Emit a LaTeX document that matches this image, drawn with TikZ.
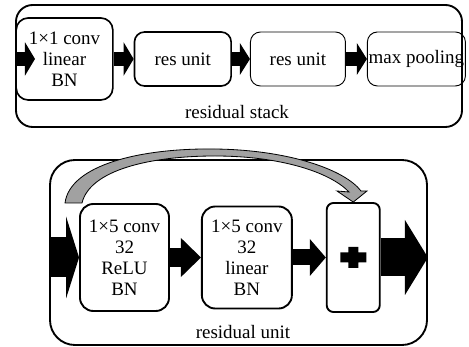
\documentclass[tikz,border=0pt]{standalone}
\usepackage{fontspec}
\setmainfont{Liberation Serif}
\usetikzlibrary{arrows.meta, positioning}

\begin{document}
\begin{tikzpicture}[
    x=0.03cm, y=-0.03cm,
    font=\fontsize{16.2}{18}\selectfont,
    block/.style={
        rectangle,
        draw=black,
        line width=1.4pt,
        rounded corners=0.3cm,
        minimum width=2.9cm,
        minimum height=1.62cm,
        inner sep=0pt,
        align=center
    },
    lightblock/.style={block, line width=0.8pt},
    frame/.style={rectangle, draw=black, line width=1.6pt, inner sep=0pt},
    flow/.style n args={3}{draw=black, line width=#1, -{Triangle[length=#2, width=#3, line width=0pt]}},
    skip/.style={draw=black, fill=black!37, line width=0.7pt}
]
    \useasboundingbox (0,0) rectangle (469,347);

    % residual stack
    \node[frame, minimum width=13.38cm, minimum height=3.66cm, rounded corners=0.5cm] (stack) at (239,66) {};
    \node (stacklbl) at (237,112) {residual stack};
    \node[block, minimum height=2.46cm, rounded corners=0.36cm] (conv) at (64.5,59) {1×1 conv\\linear\\BN};
    \node[block, right=0.6cm of conv] (res1) {res unit};
    \node[lightblock, minimum width=2.85cm, right=0.54cm of res1] (res2) {res unit};
    \node[lightblock, minimum width=2.94cm, right=0.63cm of res2] (pool) {max pooling};
    \coordinate (intip) at (35,59);

    \draw[flow={0.42cm}{0.3cm}{1.0cm}] (conv.west) -- (intip);
    \draw[flow={0.42cm}{0.3cm}{1.0cm}] (conv) -- (res1);
    \draw[flow={0.42cm}{0.3cm}{0.95cm}] (res1) -- (res2);
    \draw[flow={0.42cm}{0.3cm}{0.95cm}] (res2) -- (pool);

    % residual unit
    \node[frame, minimum width=11.31cm, minimum height=5.55cm, rounded corners=0.75cm] (unitbox) at (238.5,252.5) {};
    \node (unitlbl) at (243,332) {residual unit};
    \node[block, line width=1.6pt, minimum width=2.67cm, minimum height=3.21cm, rounded corners=0.4cm] (conv1) at (124.5,257.5) {1×5 conv\\32\\ReLU\\BN};
    \node[block, line width=1.6pt, minimum width=2.7cm, minimum height=3.06cm, rounded corners=0.4cm, right=0.93cm of conv1] (conv2) {1×5 conv\\32\\linear\\BN};
    \node[block, line width=1.6pt, minimum width=1.59cm, minimum height=3.27cm, rounded corners=0.2cm, right=0.99cm of conv2] (add) {};
    \fill[shift={(add)}] (-13,-5) rectangle (13,5) (-5,-10.5) rectangle (5,10.5);

    \draw[flow={1.2cm}{0.39cm}{2.46cm}] (unitbox.west |- conv1) -- (conv1);
    \draw[flow={0.57cm}{0.6cm}{1.17cm}] (conv1) -- (conv2);
    \draw[flow={0.48cm}{0.48cm}{1.11cm}] (conv2) -- (add);
    \draw[flow={1.14cm}{0.69cm}{2.25cm}] (add) -- (add -| unitbox.east);

    % skip connection
    \draw[skip] (65,203) .. controls (70,165) and (140,148) .. (215,149)
        .. controls (290,150) and (345,170) .. (361,191)
        -- (367,191) -- (add.north) -- (337,191) -- (349,192)
        .. controls (330,172) and (280,156) .. (215,156)
        .. controls (150,156) and (90,170) .. (82,203) -- cycle;
\end{tikzpicture}
\end{document}
